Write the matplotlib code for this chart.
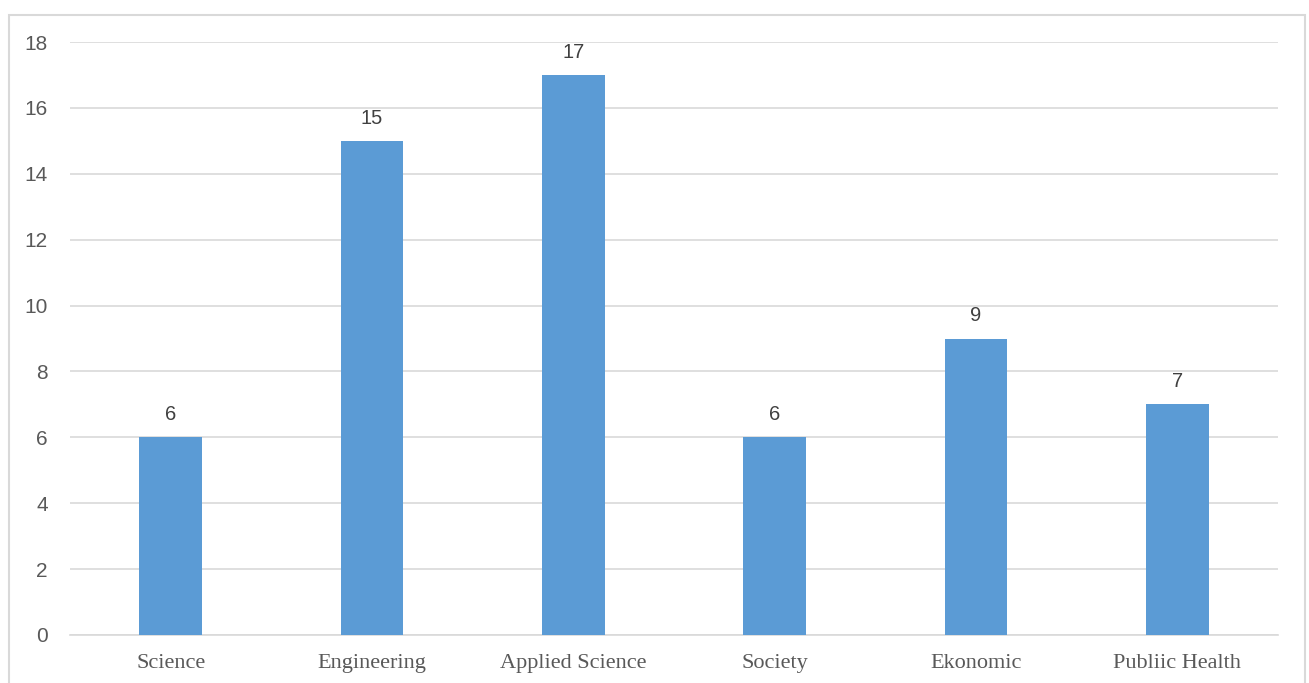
import matplotlib
matplotlib.use('Agg')
import matplotlib.pyplot as plt
import numpy as np
from matplotlib.patches import Rectangle

categories = ['Science', 'Engineering', 'Applied Science', 'Society', 'Ekonomic', 'Publiic Health']
values = [6, 15, 17, 6, 9, 7]

bar_color = '#5B9BD5'
grid_color = '#D9D9D9'
text_color = '#595959'

fig = plt.figure(figsize=(13.09, 6.83), dpi=100)
ax = fig.add_axes([70 / 1309, 1 - 635 / 683, 1208 / 1309, (635 - 42) / 683])

# outer chart frame
fig.patches.append(Rectangle((9 / 1309, -0.05), (1305 - 9) / 1309, 1.05 - 15 / 683,
                             transform=fig.transFigure, fill=False,
                             edgecolor=grid_color, linewidth=1.5))

x = np.arange(len(categories))
bars = ax.bar(x, values, width=0.31, color=bar_color, zorder=3)

for xi, v in zip(x, values):
    ax.text(xi, v + 0.4, str(v), ha='center', va='bottom', fontsize=14.5,
            color='#404040', family='Liberation Sans')

ax.set_xlim(-0.5, len(categories) - 0.5)
ax.set_ylim(0, 18)
ax.set_yticks(np.arange(0, 19, 2))
ax.grid(axis='y', color=grid_color, linewidth=1.2, zorder=0)
ax.set_xticks(x)
ax.set_xticklabels(categories, family='Liberation Serif', fontsize=16, color=text_color)
for lbl in ax.get_yticklabels():
    lbl.set_family('Liberation Sans')
    lbl.set_fontsize(15)
    lbl.set_color(text_color)

ax.tick_params(axis='both', length=0)
ax.tick_params(axis='y', pad=16)
ax.tick_params(axis='x', pad=14)
for side in ['top', 'right', 'left']:
    ax.spines[side].set_visible(False)
ax.spines['bottom'].set_color(grid_color)
ax.spines['bottom'].set_linewidth(1.2)

fig.savefig('out.png', dpi=100)
